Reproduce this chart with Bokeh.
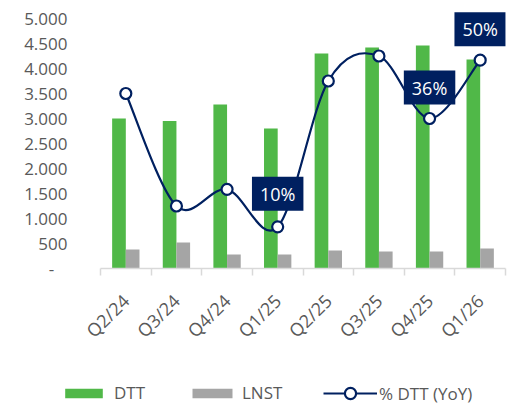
from bokeh.plotting import figure
from bokeh.models import Range1d, FixedTicker, Legend, LegendItem, Label, ColumnDataSource
from bokeh.embed import file_html
from bokeh.resources import INLINE
import math

# ---- data ----
quarters = ["Q2/24", "Q3/24", "Q4/24", "Q1/25", "Q2/25", "Q3/25", "Q4/25", "Q1/26"]
dtt = [3000, 2950, 3280, 2800, 4300, 4420, 4460, 4180]
lnst = [380, 520, 280, 280, 360, 340, 340, 400]
dtt_yoy_pct = [42, 15, 19, 10, 45, 51, 36, 50]
labelled_quarters = ["Q1/25", "Q4/25", "Q1/26"]
y_ticks = [0, 500, 1000, 1500, 2000, 2500, 3000, 3500, 4000, 4500, 5000]
y_tick_labels = ["-\u00a0\u00a0\u00a0", "500", "1.000", "1.500", "2.000", "2.500",
                 "3.000", "3.500", "4.000", "4.500", "5.000"]
series_names = ["DTT", "LNST", "% DTT (YoY)"]

# ---- style ----
FONT = "Open Sans"
GREEN = "#50B848"
GREY = "#A5A5A5"
NAVY = "#002060"
TXT = "#595959"
AXIS = "#D9D9D9"

n = len(quarters)
centers = [i + 0.5 for i in range(n)]
bw = 0.27
Y_MAX = 5000          # top tick of the left axis
PCT_MAX = 60          # matching top of the hidden % axis
HEADROOM = 1.04       # extra room above the top tick for the data labels

p = figure(width=513, height=360, output_backend="svg", toolbar_location=None,
           x_range=Range1d(0, n), y_range=Range1d(0, Y_MAX * HEADROOM),
           min_border_left=100, min_border_right=8, min_border_top=8, min_border_bottom=92)
p.extra_y_ranges = {"pct": Range1d(0, PCT_MAX * HEADROOM)}
p.outline_line_color = None
p.xgrid.visible = False
p.ygrid.visible = False

src = ColumnDataSource(dict(
    xd=[c - bw / 2 for c in centers],
    xl=[c + bw / 2 for c in centers],
    xc=centers, dtt=dtt, lnst=lnst, pct=dtt_yoy_pct))

p.vbar(x="xd", top="dtt", width=bw, source=src, fill_color=GREEN, line_color=None)
p.vbar(x="xl", top="lnst", width=bw, source=src, fill_color=GREY, line_color=None)

# smoothed line (Catmull-Rom -> cubic Bezier, computed from data points)
pts = list(zip(centers, dtt_yoy_pct))
x0s, y0s, x1s, y1s, cx0, cy0, cx1, cy1 = [], [], [], [], [], [], [], []
for i in range(n - 1):
    pm = pts[i - 1] if i > 0 else pts[i]
    pa = pts[i]
    pb = pts[i + 1]
    pn = pts[i + 2] if i + 2 < n else pts[i + 1]
    x0s.append(pa[0]); y0s.append(pa[1]); x1s.append(pb[0]); y1s.append(pb[1])
    cx0.append(pa[0] + (pb[0] - pm[0]) / 6); cy0.append(pa[1] + (pb[1] - pm[1]) / 6)
    cx1.append(pb[0] - (pn[0] - pa[0]) / 6); cy1.append(pb[1] - (pn[1] - pa[1]) / 6)
p.bezier(x0=x0s, y0=y0s, x1=x1s, y1=y1s, cx0=cx0, cy0=cy0, cx1=cx1, cy1=cy1,
         line_color=NAVY, line_width=2.2, y_range_name="pct")
p.scatter(x="xc", y="pct", source=src, size=11, marker="circle",
          fill_color="white", line_color=NAVY, line_width=2.2, y_range_name="pct")

# data labels (gap in px between box bottom and point)
label_gaps = [16, 14, 14]
for q, gap in zip(labelled_quarters, label_gaps):
    i = quarters.index(q)
    p.add_layout(Label(x=centers[i], y=dtt_yoy_pct[i], y_range_name="pct",
                       text=f"{dtt_yoy_pct[i]}%", text_align="center", text_baseline="bottom",
                       y_offset=gap, text_color="white", text_font=FONT, text_font_size="18px",
                       background_fill_color=NAVY, padding=(8, 5)))

# axes
xa = p.xaxis[0]
xa.ticker = FixedTicker(ticks=centers, minor_ticks=[float(i) for i in range(n + 1)])
xa.major_label_overrides = {c: q for c, q in zip(centers, quarters)}
xa.major_tick_line_color = None
xa.minor_tick_line_color = AXIS
xa.minor_tick_out = 7
xa.minor_tick_in = 0
xa.minor_tick_line_width = 1.5
xa.axis_line_color = AXIS
xa.axis_line_width = 1.5
xa.major_label_orientation = math.pi / 4
xa.major_label_text_font = FONT
xa.major_label_text_font_size = "18px"
xa.major_label_text_color = TXT
xa.major_label_standoff = 22

ya = p.yaxis[0]
ya.ticker = FixedTicker(ticks=y_ticks)
ya.major_label_overrides = {t: l for t, l in zip(y_ticks, y_tick_labels)}
ya.axis_line_color = None
ya.major_tick_line_color = None
ya.minor_tick_line_color = None
ya.major_label_text_font = FONT
ya.major_label_text_font_size = "17px"
ya.major_label_text_color = TXT
ya.major_label_standoff = 27

# legend in its own strip below the chart (key glyphs carry no visible data)
NaN = float("nan")
lg = figure(width=513, height=47, output_backend="svg", toolbar_location=None,
            x_range=Range1d(0, 1), y_range=Range1d(0, 1),
            min_border_left=0, min_border_right=0, min_border_top=0, min_border_bottom=0)
lg.axis.visible = False
lg.grid.visible = False
lg.outline_line_color = None
k_dtt = lg.vbar(x=[NaN], top=[NaN], width=0.1, fill_color=GREEN, line_color=None)
k_lnst = lg.vbar(x=[NaN], top=[NaN], width=0.1, fill_color=GREY, line_color=None)
k_line = lg.line(x=[NaN, NaN], y=[NaN, NaN], line_color=NAVY, line_width=2.2)
k_pt = lg.scatter(x=[NaN], y=[NaN], size=11, marker="circle", fill_color="white",
                  line_color=NAVY, line_width=2.2)

common = dict(orientation="horizontal", padding=0, margin=0, border_line_color=None,
              background_fill_alpha=0, label_text_font=FONT, label_text_font_size="17px",
              label_text_color=TXT)
leg_specs = [(series_names[0], [k_dtt], (60, 3), 47, 12, 7),
             (series_names[1], [k_lnst], (187, 3), 50, 12, 5),
             (series_names[2], [k_line, k_pt], (323, 0), 54, 28, 2)]
for name, rends, loc, gw, gh, so in leg_specs:
    lg.add_layout(Legend(items=[LegendItem(label=name, renderers=rends)], location=loc,
                         glyph_width=gw, glyph_height=gh, label_standoff=so, **common), "center")

open("out.html", "w").write(file_html([p, lg], INLINE))
